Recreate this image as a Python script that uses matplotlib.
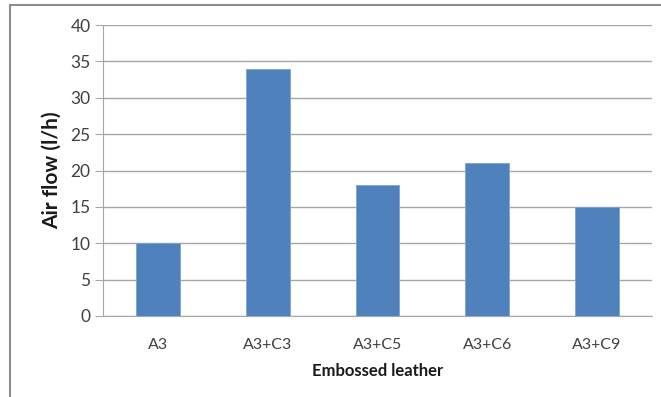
import matplotlib
matplotlib.use("Agg")
import matplotlib.pyplot as plt
from matplotlib.patches import Rectangle

categories = ["A3", "A3+C3", "A3+C5", "A3+C6", "A3+C9"]
values = [10, 34, 18, 21, 15]
yticks = [0, 5, 10, 15, 20, 25, 30, 35, 40]

plt.rcParams['font.family'] = ['Lato', 'DejaVu Sans']

fig = plt.figure(figsize=(6.61, 3.97), dpi=100)
ax = fig.add_axes([103/661, 1-316/397, (652-103)/661, (316-25)/397])

# figure border (Excel chart area)
fig.patches.append(Rectangle((10/661, -0.05), 1.2, 1.05 - 4.5/397, transform=fig.transFigure,
                             fill=False, edgecolor='#8c8c8c', linewidth=1.5, zorder=0))

x = range(len(categories))
ax.bar(x, values, width=0.4, color='#4F81BD', edgecolor='#7ea3d4', linewidth=0.6, zorder=3)

ax.set_xlim(-0.5, len(categories) - 0.5)
ax.set_ylim(0, 40)
ax.set_yticks(yticks)
ax.set_xticks(list(x))
ax.set_xticklabels(categories)
ax.yaxis.grid(True, color='#a6a6a6', linewidth=1.0, zorder=0)
ax.set_axisbelow(True)

for s in ['top', 'right']:
    ax.spines[s].set_visible(False)
ax.spines['left'].set_color('#a6a6a6')
ax.spines['bottom'].set_color('#a6a6a6')

ax.tick_params(axis='y', length=6, color='#a6a6a6', labelsize=12.5, labelcolor='#404040', pad=3)
ax.tick_params(axis='x', length=0, labelsize=11.5, labelcolor='#404040', pad=16)

ax.set_xlabel("Embossed leather", fontsize=12, fontweight='bold', color='#1a1a1a', labelpad=8)
ax.set_ylabel("Air flow (l/h)", fontsize=15, fontweight='bold', color='#1a1a1a', labelpad=6)

fig.savefig("out.png", dpi=100)
